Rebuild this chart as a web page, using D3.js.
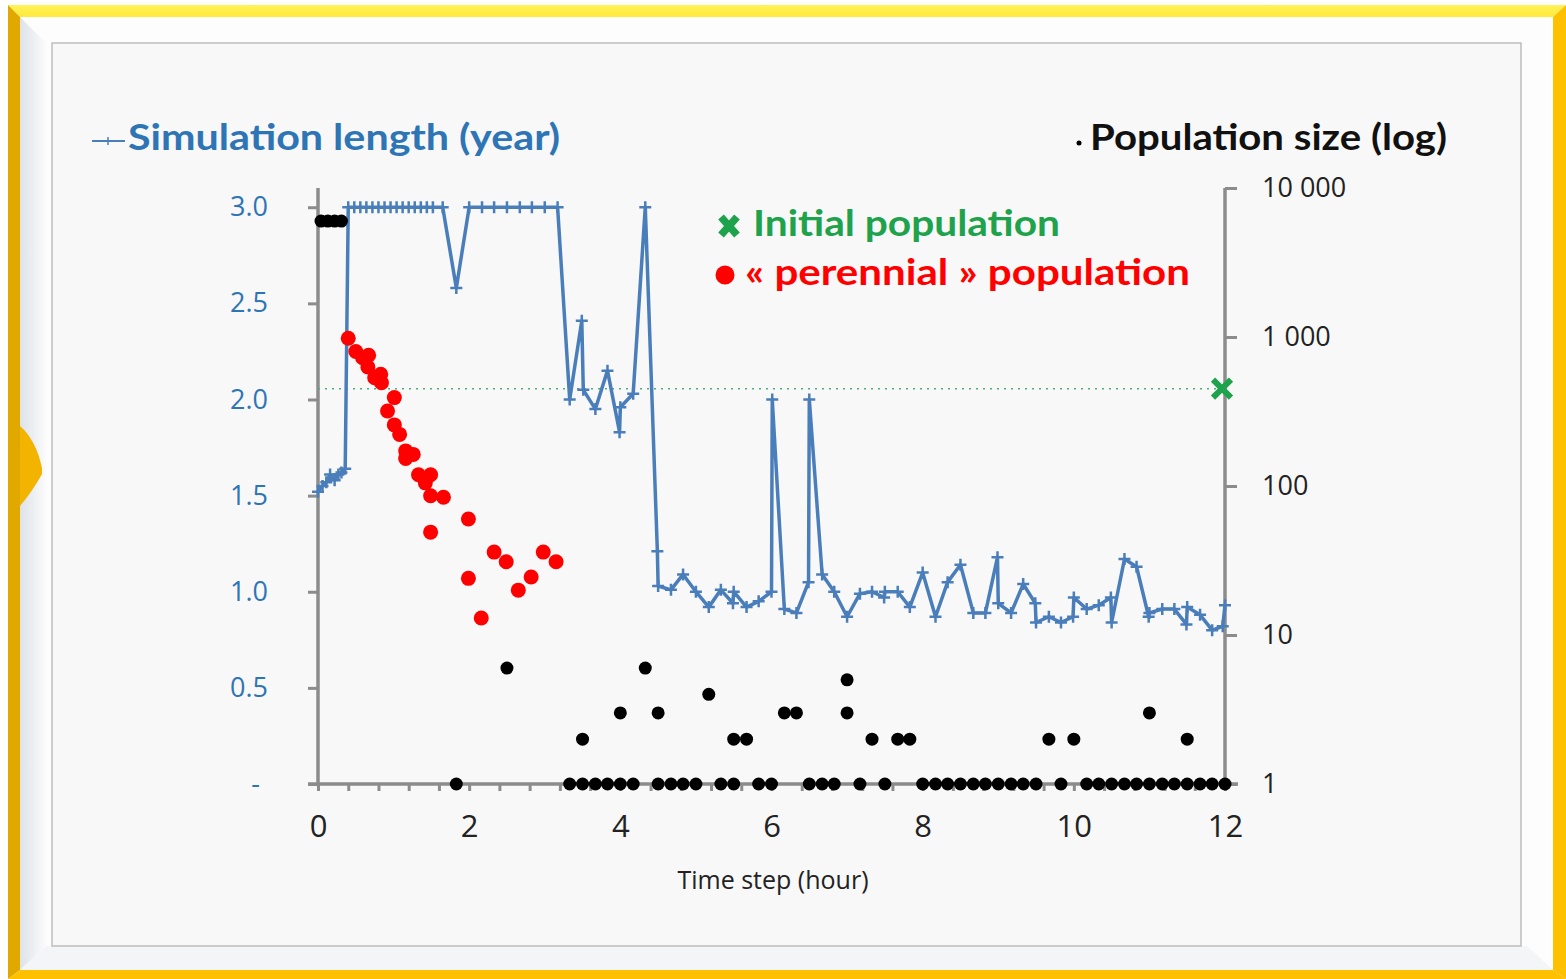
<!DOCTYPE html>
<html>
<head>
<meta charset="utf-8">
<script src="https://cdn.jsdelivr.net/npm/d3@7"></script>
<style>
  body { margin: 0; background: #ffffff; }
  svg { display: block; }
  .tick-label { font-family: 'Open Sans', sans-serif; }
  .title { font-family: Lato, 'Open Sans', sans-serif; font-weight: bold; }
</style>
</head>
<body>
<svg id="chart" width="1566" height="979"></svg>
<script>
'use strict';

// simulation length (year), left axis
var simTime = [0.00, 0.06, 0.11, 0.16, 0.22, 0.27, 0.31, 0.36, 0.40, 0.48, 0.56, 0.64, 0.72, 0.80, 0.88, 0.96, 1.04, 1.12, 1.20, 1.28, 1.36, 1.44, 1.52, 1.65,
	1.83, 2.00, 2.17, 2.33, 2.50, 2.67, 2.83, 3.00, 3.17, 3.33, 3.49, 3.51, 3.67, 3.83, 3.99, 4.00, 4.17, 4.33, 4.49, 4.50, 4.67, 4.83, 5.00,
	5.17, 5.33, 5.49, 5.50, 5.67, 5.83, 6.00, 6.01, 6.17, 6.33, 6.49, 6.50, 6.67, 6.83, 7.00, 7.17, 7.33, 7.49, 7.50, 7.67, 7.83, 8.00,
	8.17, 8.33, 8.50, 8.67, 8.83, 8.99, 9.00, 9.17, 9.33, 9.49, 9.50, 9.67, 9.83, 9.99, 10.00, 10.17, 10.33, 10.49, 10.50, 10.67, 10.83,
	10.99, 11.00, 11.17, 11.33, 11.49, 11.50, 11.67, 11.83, 11.97, 12.00];
var simLength = [1.52, 1.55, 1.57, 1.61, 1.58, 1.61, 1.62, 1.64, 3.00, 3.00, 3.00, 3.00, 3.00, 3.00, 3.00, 3.00, 3.00, 3.00, 3.00, 3.00, 3.00, 3.00, 3.00, 3.00,
	2.58, 3.00, 3.00, 3.00, 3.00, 3.00, 3.00, 3.00, 3.00, 2.00, 2.41, 2.05, 1.95, 2.15, 1.83, 1.96, 2.03, 3.00, 1.21, 1.03, 1.01, 1.09, 1.00,
	0.92, 1.01, 0.94, 1.00, 0.92, 0.95, 1.00, 2.00, 0.91, 0.89, 1.05, 2.00, 1.09, 1.00, 0.87, 0.99, 1.00, 0.97, 1.00, 1.00, 0.92, 1.10,
	0.87, 1.05, 1.14, 0.89, 0.89, 1.18, 0.94, 0.89, 1.04, 0.94, 0.84, 0.87, 0.84, 0.87, 0.97, 0.91, 0.93, 0.97, 0.84, 1.17, 1.13,
	0.87, 0.89, 0.91, 0.91, 0.83, 0.92, 0.88, 0.80, 0.82, 0.93];

// population size (log), right axis
var popTime = [0.04, 0.13, 0.22, 0.31, 1.83, 2.50, 3.33, 3.50, 3.50, 3.67, 3.83, 4.00, 4.00, 4.17, 4.33, 4.50, 4.50, 4.67, 4.83, 5.00,
	5.17, 5.33, 5.50, 5.50, 5.67, 5.83, 6.00, 6.17, 6.33, 6.50, 6.67, 6.83, 7.00, 7.00, 7.17, 7.33, 7.50, 7.67, 7.83, 8.00,
	8.17, 8.33, 8.50, 8.67, 8.83, 9.00, 9.17, 9.33, 9.50, 9.67, 9.83, 10.00, 10.17, 10.33, 10.50, 10.67, 10.83, 11.00, 11.00,
	11.17, 11.33, 11.50, 11.50, 11.67, 11.83, 12.00];
var popSize = [6000, 6000, 6000, 6000, 1, 6, 1, 1, 2, 1, 1, 1, 3, 1, 6, 1, 3, 1, 1, 1,
	4, 1, 1, 2, 2, 1, 1, 3, 3, 1, 1, 1, 5, 3, 1, 2, 1, 2, 2, 1,
	1, 1, 1, 1, 1, 1, 1, 1, 1, 2, 1, 2, 1, 1, 1, 1, 1, 1, 3,
	1, 1, 1, 2, 1, 1, 1];

// « perennial » population
var perTime = [0.40, 0.50, 0.59, 0.67, 0.66, 0.75, 0.83, 0.84, 1.01, 0.92, 1.01, 1.08, 1.16, 1.26, 1.16, 1.33, 1.42, 1.49, 1.49, 1.49,
	1.66, 1.99, 1.99, 2.16, 2.33, 2.49, 2.65, 2.82, 2.98, 3.15];
var perSize = [980, 800, 726, 754, 629, 533, 562, 493, 392, 319, 257, 222, 172, 163, 153, 119, 105, 119, 86, 49,
	84, 60, 24, 13, 36, 31, 20, 24.5, 36, 31];

// initial population
var initTime = [0, 11.96];
var initSize = [450, 450];

var leftTicks = [0, 0.5, 1.0, 1.5, 2.0, 2.5, 3.0];
var leftTickLabels = ['-', '0.5', '1.0', '1.5', '2.0', '2.5', '3.0'];
var rightTicks = [1, 10, 100, 1000, 10000];
var rightTickLabels = ['1', '10', '100', '1 000', '10 000'];
var xTicks = [0, 2, 4, 6, 8, 10, 12];
var xTickLabels = ['0', '2', '4', '6', '8', '10', '12'];

var blue = '#4A7EBB';
var blueText = '#2E75B6';
var green = '#1FA24C';

var svg = d3.select('#chart');

// ---- picture frame ----
var defs = svg.append('defs');
var leftGrad = defs.append('linearGradient').attr('id', 'leftBevel').attr('x1', 0).attr('x2', 1).attr('y1', 0).attr('y2', 0);
leftGrad.append('stop').attr('offset', '0%').attr('stop-color', '#dde3e8');
leftGrad.append('stop').attr('offset', '100%').attr('stop-color', '#fbfbfb');
var topGrad = defs.append('linearGradient').attr('id', 'topBand').attr('x1', 0).attr('x2', 0).attr('y1', 0).attr('y2', 1);
topGrad.append('stop').attr('offset', '0%').attr('stop-color', '#fff35a');
topGrad.append('stop').attr('offset', '100%').attr('stop-color', '#ffe93a');

var outer = { x0: 8, y0: 5, x1: 1566, y1: 979 };
var inner = { x0: 20, y0: 17, x1: 1553, y1: 970 };
function quad(pts) {
	return 'M' + pts.map(function (p) { return p.join(','); }).join('L') + 'Z';
}
svg.append('path').attr('d', quad([[outer.x0, outer.y0], [outer.x1, outer.y0], [inner.x1, inner.y0], [inner.x0, inner.y0]])).attr('fill', 'url(#topBand)');
svg.append('path').attr('d', quad([[outer.x0, outer.y0], [inner.x0, inner.y0], [inner.x0, inner.y1], [outer.x0, outer.y1]])).attr('fill', '#e1a800');
svg.append('path').attr('d', quad([[outer.x1, outer.y0], [outer.x1, outer.y1], [inner.x1, inner.y1], [inner.x1, inner.y0]])).attr('fill', '#ffc000');
svg.append('path').attr('d', quad([[outer.x0, outer.y1], [inner.x0, inner.y1], [inner.x1, inner.y1], [outer.x1, outer.y1]])).attr('fill', '#ffc000');

svg.append('rect').attr('x', inner.x0).attr('y', inner.y0).attr('width', inner.x1 - inner.x0).attr('height', inner.y1 - inner.y0).attr('fill', '#fdfdfd');
svg.append('path').attr('d', quad([[inner.x0, inner.y0], [46, 43], [46, 946], [inner.x0, inner.y1]])).attr('fill', 'url(#leftBevel)');
svg.append('path').attr('d', quad([[inner.x0, inner.y1], [46, 946], [1527, 946], [inner.x1, inner.y1]])).attr('fill', '#f4f5f6');

// gold shape poking in on the left
svg.append('path').attr('d', 'M20,426 Q36,440 42,468 L42,474 Q32,492 20,506 Z').attr('fill', '#f3b400');

// chart area
svg.append('rect').attr('x', 52).attr('y', 43).attr('width', 1469).attr('height', 903).attr('fill', '#f8f8f8').attr('stroke', '#bdbdbd').attr('stroke-width', 1.5);

// ---- scales ----
var x = d3.scaleLinear().domain([0, 12]).range([318, 1225]);
var yLeft = d3.scaleLinear().domain([0, 3.1]).range([784, 188]);
var yRight = d3.scaleLog().domain([1, 10000]).range([784, 188]);

// ---- axes ----
var axisColor = '#8c8c8c';

var leftAxis = svg.append('g').attr('transform', 'translate(318,0)')
	.call(d3.axisLeft(yLeft).tickValues(leftTicks).tickSize(10).tickPadding(40).tickFormat(function (d, i) { return leftTickLabels[i]; }));
leftAxis.select('.domain').attr('d', 'M0,188V784');

var rightAxis = svg.append('g').attr('transform', 'translate(1225,0)')
	.call(d3.axisRight(yRight).tickValues(rightTicks).tickSize(12).tickPadding(25).tickFormat(function (d, i) { return rightTickLabels[i]; }));
rightAxis.select('.domain').attr('d', 'M0,188V784');

var minorTicks = d3.range(0, 12.001, 0.4);
var bottomAxis = svg.append('g').attr('transform', 'translate(0,784)')
	.call(d3.axisBottom(x).tickValues(minorTicks).tickSize(7).tickFormat(''));
bottomAxis.select('.domain').attr('d', 'M308,0H1238');

var bottomLabels = svg.append('g').attr('transform', 'translate(0,784)')
	.call(d3.axisBottom(x).tickValues(xTicks).tickSize(0).tickPadding(31).tickFormat(function (d, i) { return xTickLabels[i]; }));
bottomLabels.select('.domain').remove();

[leftAxis, rightAxis, bottomAxis].forEach(function (g) {
	g.select('.domain').attr('stroke', axisColor).attr('stroke-width', 3.5);
	g.selectAll('.tick line').attr('stroke', axisColor).attr('stroke-width', 3);
});

leftAxis.selectAll('.tick text').attr('class', 'tick-label').attr('font-size', 27).attr('fill', blueText);
leftAxis.selectAll('.tick text').filter(function (d) { return d === 0; }).attr('dx', -8);
rightAxis.selectAll('.tick text').attr('class', 'tick-label').attr('font-size', 27).attr('fill', '#222');
bottomLabels.selectAll('.tick text').attr('class', 'tick-label').attr('font-size', 31).attr('fill', '#222');

svg.append('text').attr('class', 'tick-label').attr('x', 773).attr('y', 889).attr('text-anchor', 'middle')
	.attr('font-size', 25).attr('fill', '#222').text('Time step (hour)');

// ---- initial population reference line ----
var initData = d3.zip(initTime, initSize);
svg.append('path').datum(initData)
	.attr('d', d3.line().x(function (d) { return x(d[0]); }).y(function (d) { return yRight(d[1]); }))
	.attr('fill', 'none').attr('stroke', '#4fae80').attr('stroke-width', 1.5).attr('stroke-dasharray', '2,5');

// ---- simulation length line ----
var simData = d3.zip(simTime, simLength);
svg.append('path').datum(simData)
	.attr('d', d3.line().x(function (d) { return x(d[0]); }).y(function (d) { return yLeft(d[1]); }))
	.attr('fill', 'none').attr('stroke', blue).attr('stroke-width', 3.5).attr('stroke-linejoin', 'round');
svg.selectAll('path.plus').data(simData).enter().append('path').attr('class', 'plus')
	.attr('transform', function (d) { return 'translate(' + x(d[0]) + ',' + yLeft(d[1]) + ')'; })
	.attr('d', 'M-6,0H6M0,-6V6').attr('stroke', blue).attr('stroke-width', 2.5);

// ---- population dots ----
var perData = d3.zip(perTime, perSize);
svg.selectAll('circle.per').data(perData).enter().append('circle').attr('class', 'per')
	.attr('cx', function (d) { return x(d[0]); }).attr('cy', function (d) { return yRight(d[1]); })
	.attr('r', 7.5).attr('fill', '#ff0000');

var popData = d3.zip(popTime, popSize);
svg.selectAll('circle.pop').data(popData).enter().append('circle').attr('class', 'pop')
	.attr('cx', function (d) { return x(d[0]); }).attr('cy', function (d) { return yRight(d[1]); })
	.attr('r', 6.5).attr('fill', '#000');

// initial population marker
svg.selectAll('path.init').data(initData.slice(1)).enter().append('path').attr('class', 'init')
	.attr('transform', function (d) { return 'translate(' + x(d[0]) + ',' + yRight(d[1]) + ')'; })
	.attr('d', 'M-9,-9L9,9M9,-9L-9,9').attr('stroke', green).attr('stroke-width', 6);

// ---- titles and legend ----
svg.append('path').attr('d', 'M92,141H125').attr('stroke', blue).attr('stroke-width', 2);
svg.append('path').attr('d', 'M104,141H112M108,137V145').attr('stroke', blue).attr('stroke-width', 1.5);
svg.append('text').attr('class', 'title').attr('x', 128).attr('y', 150).attr('font-size', 37)
	.attr('textLength', 432).attr('lengthAdjust', 'spacingAndGlyphs').attr('fill', blueText).text('Simulation length (year)');

svg.append('circle').attr('cx', 1079).attr('cy', 143).attr('r', 2.5).attr('fill', '#000');
svg.append('text').attr('class', 'title').attr('x', 1090).attr('y', 150).attr('font-size', 37)
	.attr('textLength', 357).attr('lengthAdjust', 'spacingAndGlyphs').attr('fill', '#111').text('Population size (log)');

svg.append('path').attr('transform', 'translate(729,226)').attr('d', 'M-8,-9L8,9M8,-9L-8,9').attr('stroke', green).attr('stroke-width', 7.5);
svg.append('text').attr('class', 'title').attr('x', 753).attr('y', 236).attr('font-size', 37)
	.attr('textLength', 307).attr('lengthAdjust', 'spacingAndGlyphs').attr('fill', green).text('Initial population');

svg.append('circle').attr('cx', 725).attr('cy', 275).attr('r', 9.5).attr('fill', '#ff0000');
svg.append('text').attr('class', 'title').attr('x', 745).attr('y', 285).attr('font-size', 37)
	.attr('textLength', 445).attr('lengthAdjust', 'spacingAndGlyphs').attr('fill', '#ff0000').text('« perennial » population');
</script>
</body>
</html>
